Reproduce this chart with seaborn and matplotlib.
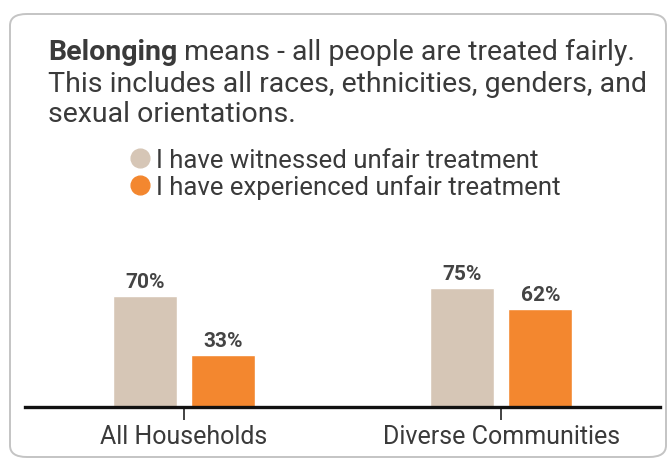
import matplotlib
matplotlib.use("Agg")
import matplotlib.pyplot as plt
import pandas as pd
import seaborn as sns
from matplotlib.lines import Line2D
from matplotlib.patches import FancyBboxPatch

groups = ["All Households", "Diverse Communities"]
series = ["I have witnessed unfair treatment", "I have experienced unfair treatment"]
witnessed = [70, 75]
experienced = [33, 62]
colors = ["#D6C6B6", "#F3872F"]

df = pd.DataFrame({
    "group": groups * 2,
    "series": [series[0]] * 2 + [series[1]] * 2,
    "value": witnessed + experienced,
})

sns.set_theme(style="white")
plt.rcParams["font.family"] = ["Roboto", "DejaVu Sans"]
text_color = "#3a3a3a"

W, H = 672, 460
fig = plt.figure(figsize=(W / 100, H / 100), dpi=100)

# rounded card outline
card = FancyBboxPatch((10 / W, 2 / H), 656 / W, 443 / H,
                      boxstyle="round,pad=0,rounding_size=0.025",
                      transform=fig.transFigure, fill=False,
                      edgecolor="#c4c4c4", linewidth=1.4)
fig.patches.append(card)

ax = fig.add_axes([25 / W, 52 / H, 635 / W, 158.6 / H])
sns.barplot(data=df, x="group", y="value", hue="series", palette=colors,
            width=0.492, gap=0.18, ax=ax, legend=False, saturation=1)
ax.set_xlim(-0.5, 1.5)
ax.set_ylim(0, 100)
ax.set_xlabel("")
ax.set_ylabel("")
ax.set_yticks([])
for s in ["top", "left", "right"]:
    ax.spines[s].set_visible(False)
ax.spines["bottom"].set_linewidth(2.4)
ax.spines["bottom"].set_color("#111111")
ax.tick_params(axis="x", bottom=True, length=9, width=1.2, color="#222222",
               labelsize=18, labelcolor=text_color, pad=3)

for cont in ax.containers:
    ax.bar_label(cont, fmt="%d%%", padding=3.5, fontsize=15, fontweight="bold",
                 color="#444444")

# heading with bold first word
fs = 20.5
t1 = fig.text(48 / W, 1 - 52 / H, "Belonging", fontsize=fs, fontweight="bold",
              color=text_color, va="center")
fig.canvas.draw()
bb = t1.get_window_extent()
fig.text(bb.x1 / W, 1 - 52 / H, " means - all people are treated fairly.",
         fontsize=fs, color=text_color, va="center")
fig.text(48 / W, 1 - 84 / H, "This includes all races, ethnicities, genders, and",
         fontsize=fs, color=text_color, va="center")
fig.text(48 / W, 1 - 115 / H, "sexual orientations.",
         fontsize=fs, color=text_color, va="center")

handles = [Line2D([], [], marker="o", linestyle="", markersize=13.5,
                  markerfacecolor=c, markeredgecolor=c) for c in colors]
fig.legend(handles, series, loc="upper left", bbox_to_anchor=(128 / W, 1 - 149 / H),
           frameon=False, fontsize=18.5, handletextpad=0.2, labelspacing=0.08,
           borderaxespad=0, borderpad=0, labelcolor=text_color, handlelength=0.9)

fig.savefig("out.png", dpi=100)
